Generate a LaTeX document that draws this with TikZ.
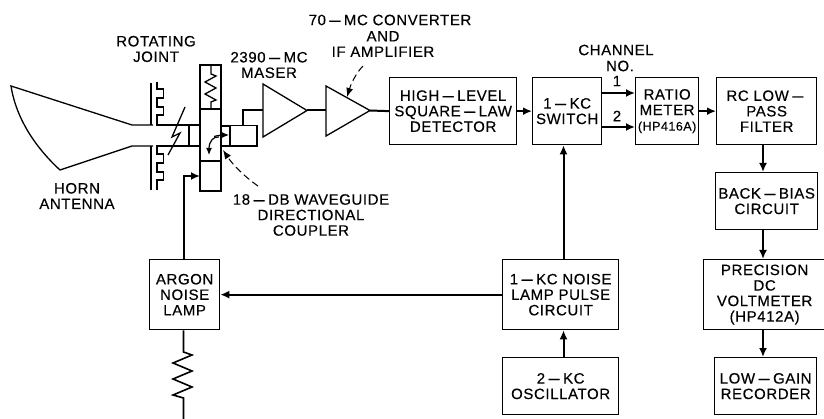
\documentclass[tikz,border=0pt]{standalone}
\usepackage{fontspec}
\usepackage{graphicx}
\setmainfont[LetterSpace=4,FakeBold=0.35]{Liberation Sans}
\usetikzlibrary{arrows.meta}
\newcommand{\hy}{\kern1.5pt\scalebox{3.0}[1]{-}\kern1.5pt}
\tikzset{
 x=1pt,y=-1pt,
 blk/.style={draw,line width=1.3pt,align=center,inner sep=0pt,font=\fontsize{15}{15.5}\selectfont,anchor=north west},
 lbl/.style={align=center,inner sep=0pt,font=\fontsize{15}{15.5}\selectfont},
 thinline/.style={line width=1.3pt,line join=miter},
 conn/.style={line width=2pt,-{Latex[length=9pt,width=8pt]}},
 wire/.style={line width=2pt},
 lead/.style={line width=1pt,dash pattern=on 7pt off 4pt,-{Latex[length=9pt,width=7pt]}},
}
\newcommand{\blkbox}[6]{\node[blk,minimum width=#4pt,minimum height=#5pt] (#1) at (#2,#3) {#6};}
\begin{document}
\begin{tikzpicture}
\useasboundingbox (0,0) rectangle (824,419);
\blkbox{det}{389}{77}{127}{67}{HIGH\hy LEVEL\\SQUARE\hy LAW\\DETECTOR}
\blkbox{sw}{532}{77}{69}{67}{1\hy KC\\SWITCH}
\blkbox{ratio}{635}{77}{63}{67}{RATIO\\METER\\{\fontsize{12.5}{15.5}\selectfont (HP416A)}}
\blkbox{rc}{716}{77}{100}{67}{RC LOW\hy\\PASS\\FILTER}
\blkbox{bb}{715}{172}{102}{57}{BACK\hy BIAS\\CIRCUIT}
\blkbox{volt}{703}{259}{122}{70}{PRECISION\\DC\\VOLTMETER\\(HP412A)}
\blkbox{rec}{714}{357}{102}{57}{LOW\hy GAIN\\RECORDER}
\blkbox{pulse}{502}{259}{116}{70}{1\hy KC NOISE\\LAMP PULSE\\CIRCUIT}
\blkbox{osc}{502}{357}{116}{57}{2\hy KC\\OSCILLATOR}
\blkbox{lamp}{149}{259}{70}{70}{ARGON\\NOISE\\LAMP}
% labels
\node[lbl] (l1) at (156,49) {ROTATING\\JOINT};
\node[lbl] (l2) at (269,65) {2390\hy MC\\MASER};
\node[lbl] (l3) at (390,20) {70\hy MC CONVERTER};
\node[lbl] (l4) at (383,44) {AND\\IF AMPLIFIER};
\node[lbl] (l5) at (77,196) {HORN\\ANTENNA};
\node[lbl] (l6) at (311,215) {18\hy DB WAVEGUIDE\\DIRECTIONAL\\COUPLER};
\node[lbl] (l7) at (616,50) {CHANNEL};
\node[lbl] (l8) at (620,66) {NO.};
\node[lbl] (l9) at (617,81) {1};
\node[lbl] (l10) at (617,116) {2};
% horn and waveguide
\draw[thinline] (153,125) -- (132,125) -- (11,86) .. controls (16,118) and (35,147) .. (60,170) -- (132,146) -- (153,146);
\draw[thinline] (151,83) -- (151,125);
\draw[thinline] (151,146) -- (151,190);
\draw[thinline] (157,82) -- (157,89) -- (163.5,89) -- (163.5,98) -- (157,98) -- (157,107) -- (163.5,107) -- (163.5,115) -- (157,115) -- (157,125) -- (200,125);
\draw[thinline] (157,190) -- (157,180) -- (163.5,180) -- (163.5,172) -- (157,172) -- (157,163) -- (163.5,163) -- (163.5,154) -- (157,154) -- (157,146) -- (200,146);
\draw[thinline] (189,125) -- (189,146);
\draw[thinline] (185,107) -- (172,137) -- (180,133) -- (168,155);
% coupler
\draw[thinline] (200,65) rectangle (221,191);
\draw[thinline] (200,109) -- (221,109);
\draw[thinline] (200,161) -- (221,161);
\draw[thinline] (211,65) -- (211,74) -- (216,76) -- (205,82) -- (216,88) -- (205,94) -- (216,100) -- (211,102) -- (211,109);
\draw[thinline] (221,126) -- (230,126);
\draw[thinline] (221,146) -- (230,146);
\draw[thinline] (230,125.5) rectangle (257,146);
\draw[line width=1.2pt,-{Latex[length=7pt,width=6pt]}] (219,137) .. controls (214,136) and (209,141) .. (209,155);
\draw[line width=1.2pt,-{Latex[length=7pt,width=6pt]}] (214,136.5) .. controls (219,135) and (224,135) .. (229,135);
% amplifiers
\coordinate (a1) at (263,110.5);
\coordinate (a1o) at (307,110.5);
\coordinate (a2) at (326,110.5);
\coordinate (a2o) at (370,110.5);
\draw[thinline] (263,84) -- (a1o) -- (263,137) -- cycle;
\draw[thinline] (326,86) -- (a2o) -- (326,136) -- cycle;
\draw[wire] (243,125.5) -- (243,110.5) -- (a1);
\draw[wire] (a1o) -- (a2);
\draw[wire] (a2o) -- (det.west);
% connectors
\coordinate (px) at (563.5,0);
\coordinate (qx) at (763,0);
\coordinate (c1) at (601,93);
\coordinate (c2) at (601,127);
\draw[conn] (det.east) -- (sw.west);
\draw[conn] (c1) -- (ratio.west |- c1);
\draw[conn] (c2) -- (ratio.west |- c2);
\draw[conn] (ratio.east) -- (rc.west);
\draw[conn] (rc.south -| qx) -- (bb.north -| qx);
\draw[conn] (bb.south -| qx) -- (volt.north -| qx);
\draw[conn] (volt.south -| qx) -- (rec.north -| qx);
\draw[conn] (osc.north -| px) -- (pulse.south -| px);
\draw[conn] (pulse.north -| px) -- (sw.south -| px);
\draw[conn] (pulse.west) -- (lamp.east);
\coordinate (lx) at (183.5,0);
\coordinate (ci) at (200,176);
\draw[conn] (lamp.north -| lx) -- (lx |- ci) -- (ci);
\draw[line width=1.6pt] (lamp.south -| lx) -- (183.5,352) -- (192,355) -- (173,363) -- (192,371) -- (173,379) -- (192,387) -- (173,395) -- (183.5,398) -- (183.5,419);
% leads
\coordinate (f1) at (363,66);
\coordinate (f2) at (347,97);
\draw[lead] (f1) .. controls (356,73) and (351,84) .. (f2);
\coordinate (g1) at (258,186);
\coordinate (g2) at (223,150);
\draw[lead] (g1) .. controls (245,177) and (233,165) .. (g2);
\end{tikzpicture}
\end{document}
